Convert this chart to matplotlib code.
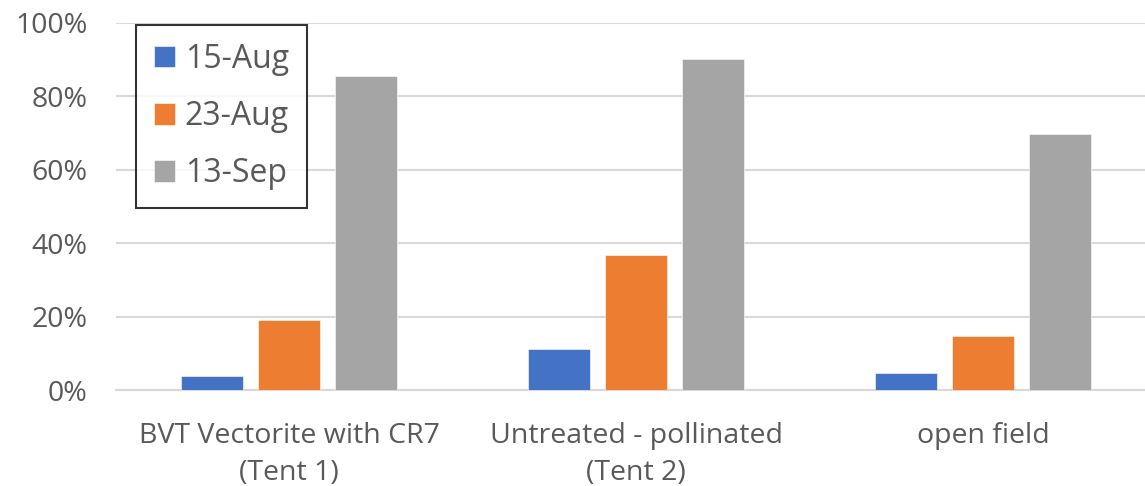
import numpy as np
import matplotlib
matplotlib.use("Agg")
import matplotlib.pyplot as plt
from matplotlib.ticker import PercentFormatter

plt.rcParams['font.family'] = ['Open Sans', 'DejaVu Sans']

categories = ['BVT Vectorite with CR7\n(Tent 1)', 'Untreated - pollinated\n(Tent 2)', 'open field']
series = ['15-Aug', '23-Aug', '13-Sep']
aug15 = [0.04, 0.111, 0.048]
aug23 = [0.19, 0.367, 0.148]
sep13 = [0.856, 0.901, 0.698]
colors = ['#4472C4', '#ED7D31', '#A5A5A5']

text_color = '#595959'
grid_color = '#D9D9D9'

fig = plt.figure(figsize=(11.45, 4.86), dpi=100)
# axes runs slightly past the right edge of the figure
ax = fig.add_axes([115.5 / 1145, 1 - 390.3 / 486, 1041 / 1145, 367.7 / 486])

x = np.arange(len(categories))
width = 0.176
step = 0.222
for i, (name, vals) in enumerate(zip(series, [aug15, aug23, sep13])):
    ax.bar(x + (i - 1) * step, vals, width, color=colors[i], label=name,
           edgecolor='white', linewidth=0.4, zorder=3)

ax.set_xlim(-0.5, 2.5)
ax.set_ylim(0, 1)
ax.set_yticks(np.arange(0, 1.01, 0.2))
ax.yaxis.set_major_formatter(PercentFormatter(1.0, decimals=0))
ax.set_xticks(x)
ax.set_xticklabels(categories, linespacing=1.45)

ax.grid(axis='y', color=grid_color, linewidth=1.5, zorder=0)
for side in ['left', 'right', 'top']:
    ax.spines[side].set_visible(False)
ax.spines['bottom'].set_color(grid_color)
ax.spines['bottom'].set_linewidth(1.5)
ax.spines['bottom'].set_zorder(1)

ax.tick_params(axis='both', length=0, labelsize=20.5, colors=text_color)
ax.tick_params(axis='y', pad=20)
ax.tick_params(axis='x', pad=22.5)

leg = ax.legend(loc='upper left', bbox_to_anchor=(20.5 / 1041, 1.0 - 2.5 / 367.7),
                fontsize=23, frameon=True, fancybox=False, borderpad=0.55,
                labelspacing=0.76, handlelength=0.66, handleheight=0.66,
                handletextpad=0.32, borderaxespad=0)
frame = leg.get_frame()
frame.set_edgecolor('black')
frame.set_linewidth(1.5)
for t in leg.get_texts():
    t.set_color(text_color)

fig.savefig('out.png', dpi=100, facecolor='white')
